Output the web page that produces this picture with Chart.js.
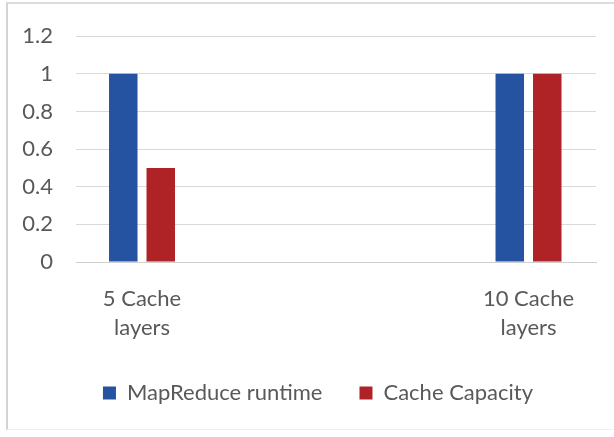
<!DOCTYPE html>
<html>
<head>
<meta charset="utf-8">
<script src="https://cdn.jsdelivr.net/npm/chart.js@4/dist/chart.umd.min.js"></script>
<style>
  html, body { margin: 0; padding: 0; background: #fff; }
  #wrap { position: relative; width: 614px; height: 437px; }
  #frame {
    position: absolute; left: 6px; top: 2px; right: 0; bottom: 7px;
    border-left: 2px solid #d4d4d4; border-top: 2px solid #dcdcdc;
    border-bottom: 1px solid #f0f0f0;
  }
  canvas { position: absolute; left: 0; top: 0; }
</style>
</head>
<body>
<div id="wrap">
  <div id="frame"></div>
  <canvas id="grafico" width="614" height="437"></canvas>
</div>
<script>
// Datos del gráfico
const categorias = [['5 Cache', 'layers'], ['10 Cache', 'layers']];
const mapReduceRuntime = [1, 1];
const cacheCapacity = [0.5, 1];
const serieNombres = ['MapReduce runtime', 'Cache Capacity'];
const yTicks = { min: 0, max: 1.2, step: 0.2 };

const AZUL = '#2553a2';
const ROJO = '#af2226';
const GRIS_TEXTO = '#595959';

Chart.defaults.font.family = 'Lato, "Open Sans", sans-serif';
Chart.defaults.color = GRIS_TEXTO;

const aPuntos = (valores) => valores.map((v, i) => ({ x: i, y: v }));

// La leyenda va un poco corrida a la derecha, como en el original
const moverLeyenda = {
    id: 'moverLeyenda',
    afterLayout(chart) {
        if (chart.legend) chart.legend.left += 40;
    }
};

const ctx = document.getElementById('grafico').getContext('2d');
new Chart(ctx, {
    type: 'bar',
    data: {
        datasets: [
            {
                label: serieNombres[0],
                data: aPuntos(mapReduceRuntime),
                backgroundColor: AZUL,
                categoryPercentage: 0.194,
                barPercentage: 0.76
            },
            {
                label: serieNombres[1],
                data: aPuntos(cacheCapacity),
                backgroundColor: ROJO,
                categoryPercentage: 0.194,
                barPercentage: 0.76
            }
        ]
    },
    plugins: [moverLeyenda],
    options: {
        responsive: false,
        animation: false,
        layout: { padding: { left: 0, right: 18, top: 35, bottom: 23 } },
        plugins: {
            tooltip: { enabled: false },
            legend: {
                position: 'bottom',
                labels: {
                    boxWidth: 13,
                    boxHeight: 13,
                    padding: 37,
                    color: GRIS_TEXTO,
                    font: { size: 22 }
                }
            }
        },
        scales: {
            x: {
                type: 'linear',
                offset: false,
                min: -0.1708,
                max: 1.1746,
                grid: { display: false, drawTicks: false },
                border: { display: true, color: '#cfcfcf', width: 1 },
                afterBuildTicks: (eje) => {
                    eje.ticks = categorias.map((c, i) => ({ value: i }));
                },
                afterFit: (eje) => { eje.height = 83; },
                ticks: {
                    padding: 22,
                    maxRotation: 0,
                    autoSkip: false,
                    color: GRIS_TEXTO,
                    font: { size: 22, lineHeight: 1.32 },
                    callback: (valor, indice) => categorias[indice]
                }
            },
            y: {
                min: yTicks.min,
                max: yTicks.max,
                grid: { color: '#d9d9d9', lineWidth: 1, drawTicks: false },
                border: { display: false },
                afterFit: (eje) => { eje.width = 76; },
                ticks: {
                    stepSize: yTicks.step,
                    padding: 23,
                    color: GRIS_TEXTO,
                    font: { size: 22 },
                    callback: (valor) => String(Number(valor.toFixed(1)))
                }
            }
        }
    }
});
</script>
</body>
</html>
